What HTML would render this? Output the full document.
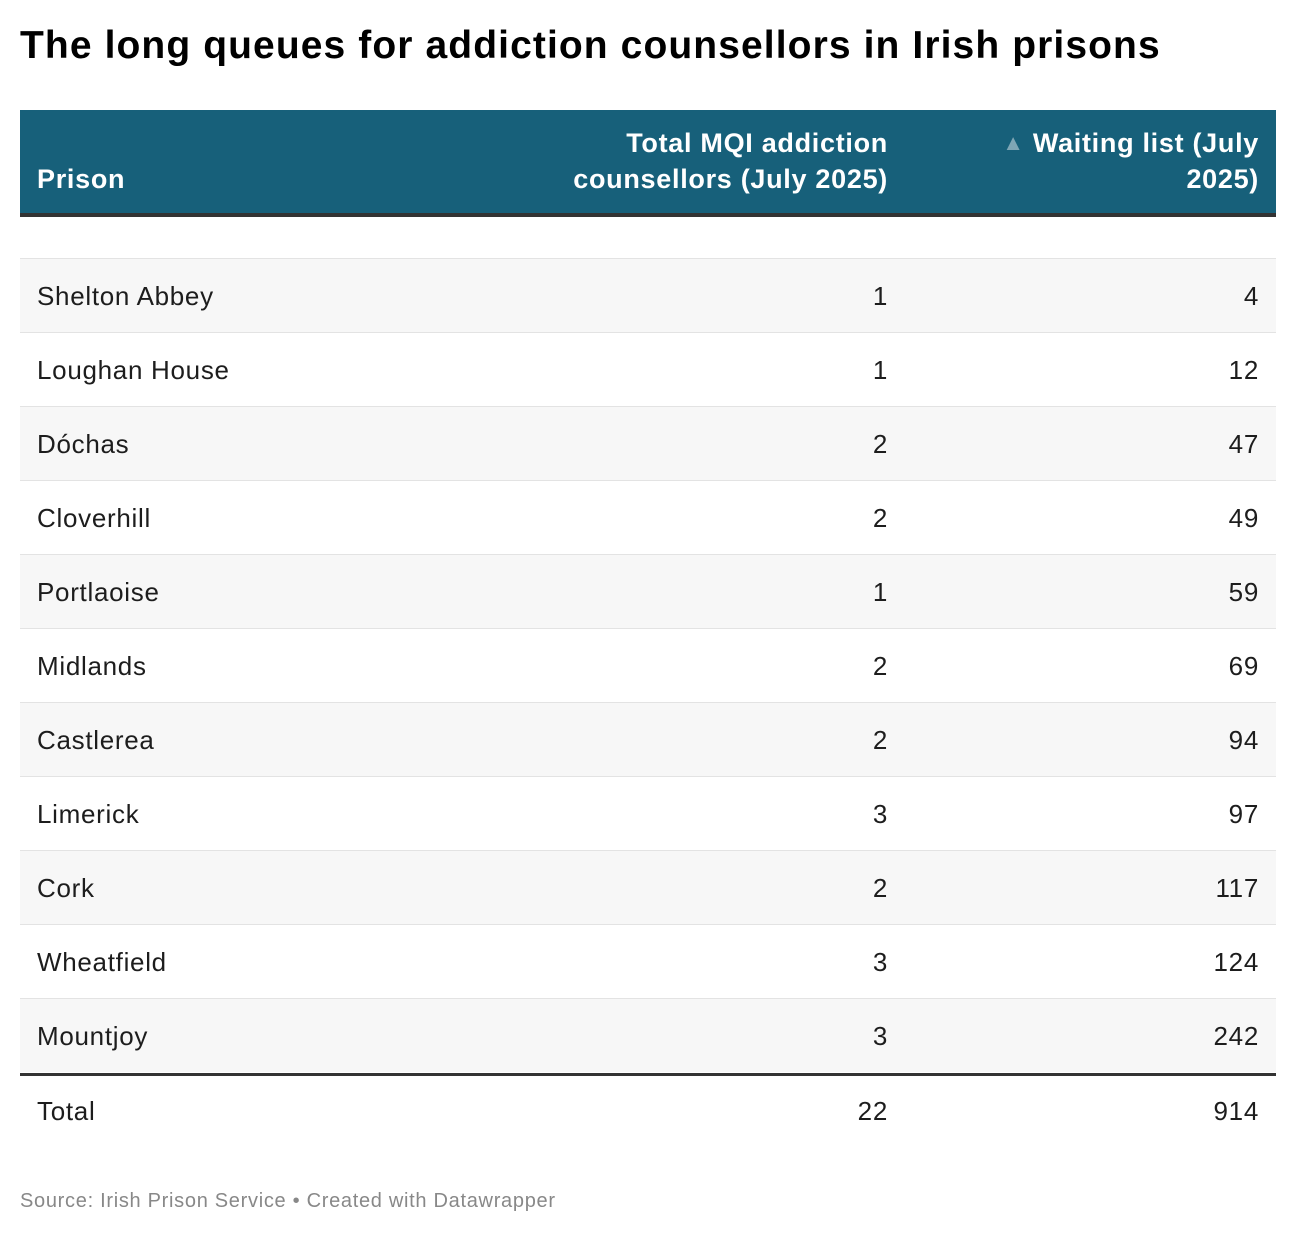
<!DOCTYPE html>
<html><head><meta charset="utf-8"><style>
body{margin:0;width:1296px;height:1234px;background:#fff;font-family:"Liberation Sans",sans-serif;color:#1d1d1d;position:relative;overflow:hidden}
.a{position:absolute}
h1{position:absolute;left:20px;top:24px;margin:0;font-size:39px;font-weight:bold;letter-spacing:1.1px;color:#000}
.hdr{left:20px;top:110px;width:1256px;height:103px;background:#17607a;border-bottom:4px solid #333}
.ht{position:absolute;color:#fff;font-weight:bold;font-size:27px;line-height:36px;letter-spacing:0.7px}
.row{position:absolute;left:20px;width:1256px;height:73px;border-top:1px solid #e3e3e3;font-size:26px;letter-spacing:0.7px}
.row span{position:absolute;top:22px}
.c1{left:17px}.c2{right:388px}.c3{right:17px}
</style></head><body>
<h1>The long queues for addiction counsellors in Irish prisons</h1>
<div class="a hdr">
<div class="ht" style="left:17px;top:51px">Prison</div>
<div class="ht" style="right:388px;top:15px;text-align:right">Total MQI addiction<br>counsellors (July 2025)</div>
<div class="ht" style="right:17px;top:15px;text-align:right"><span style="color:#7fa6b5;font-size:22px;vertical-align:2px">▲</span> Waiting list (July<br>2025)</div>
</div>
<div id="rows"></div>
<div class="a" style="left:20px;top:1073px;width:1256px;height:3px;background:#333"></div>
<div class="row" style="top:1076px;border-top:none"><span class="c1" style="top:20px">Total</span><span class="c2" style="top:20px">22</span><span class="c3" style="top:20px">914</span></div>
<div class="a" style="left:20px;top:1190px;font-size:20px;color:#888;letter-spacing:0.7px">Source: Irish Prison Service • Created with Datawrapper</div>
<script>
const prisons=["Shelton Abbey","Loughan House","Dóchas","Cloverhill","Portlaoise","Midlands","Castlerea","Limerick","Cork","Wheatfield","Mountjoy"];
const counsellors=[1,1,2,2,1,2,2,3,2,3,3];
const waiting=[4,12,47,49,59,69,94,97,117,124,242];
const host=document.getElementById('rows');
prisons.forEach((p,i)=>{
const r=document.createElement('div');
r.className='row';


r.style.top=(258+i*74)+'px';
r.style.background=i%2===0?'#f7f7f7':'#fff';
r.innerHTML='<span class="c1">'+p+'</span><span class="c2">'+counsellors[i]+'</span><span class="c3">'+waiting[i]+'</span>';
host.appendChild(r);
});
</script>
</body></html>
